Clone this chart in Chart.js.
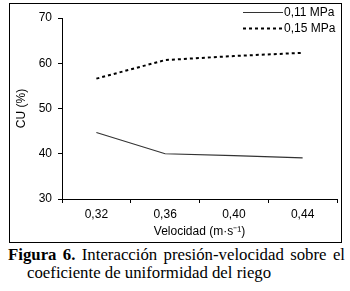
<!DOCTYPE html>
<html>
<head>
<meta charset="utf-8">
<script src="https://cdn.jsdelivr.net/npm/chart.js@4.4.0/dist/chart.umd.min.js"></script>
<style>
   body { margin: 0; background: #fff; }
   #box { position: absolute; left: 9px; top: 3px; width: 331px; height: 238px; border: 1px solid #000; }
   #box canvas { display: block; }
   #cap { position: absolute; left: 8px; top: 246px; width: 337px; font-family: "Liberation Serif", "Times New Roman", "DejaVu Serif", serif;
          font-size: 16.8px; line-height: 18px; color: #000; white-space: nowrap; }
   #cap .l1 { text-align: justify; text-align-last: justify; }
   #cap .l2 { padding-left: 19px; }
</style>
</head>
<body>
<div id="box"><canvas id="cu_chart" width="331" height="238"></canvas></div>
<div id="cap">
   <div class="l1"><b>Figura 6.</b> Interacción presión-velocidad sobre el</div>
   <div class="l2">coeficiente de uniformidad del riego</div>
</div>
<script>
   "use strict";
   var velocidad = ['0,32', '0,36', '0,40', '0,44'];
   var cu_011 = [44.7, 40.0, 39.6, 39.1];
   var cu_015 = [56.6, 60.7, 61.6, 62.3];
   var y_ticks = [30, 40, 50, 60, 70];

   var font = { family: '"Liberation Sans", Arial, sans-serif', size: 12 };

   // legend drawn in the top right corner, as in the figure
   var legendPlugin = {
      id: 'cornerLegend',
      afterDraw: function (chart) {
         var ctx = chart.ctx;
         ctx.save();
         chart.data.datasets.forEach(function (ds, i) {
            var y = 8.5 + i * 16;
            ctx.strokeStyle = ds.borderColor;
            ctx.lineWidth = ds.borderWidth;
            ctx.setLineDash(ds.borderDash || []);
            ctx.beginPath();
            ctx.moveTo(233, y);
            ctx.lineTo(273, y);
            ctx.stroke();
            ctx.setLineDash([]);
            ctx.fillStyle = '#000';
            ctx.font = font.size + 'px ' + font.family;
            ctx.textBaseline = 'middle';
            ctx.fillText(ds.label, 274, y);
         });
         ctx.restore();
      }
   };

   var ctx = document.getElementById('cu_chart').getContext('2d');
   const cu_chart = new Chart(ctx, {
      type: 'line',
      data: {
         labels: velocidad,
         datasets: [
            {
               label: '0,11 MPa',
               data: cu_011,
               borderColor: '#333',
               borderWidth: 1.2,
               pointRadius: 0,
               tension: 0,
               fill: false,
            },
            {
               label: '0,15 MPa',
               data: cu_015,
               borderColor: '#000',
               borderWidth: 2,
               borderDash: [3, 3],
               pointRadius: 0,
               tension: 0,
               fill: false,
            }
         ]
      },
      options: {
         responsive: false,
         animation: false,
         layout: { padding: { left: 2, right: 4, top: 14, bottom: 0 } },
         plugins: { legend: { display: false }, tooltip: { enabled: false } },
         scales: {
            x: {
               offset: true,
               grid: { offset: true, drawOnChartArea: false, drawTicks: true, tickLength: 4, color: '#000' },
               border: { color: '#000', width: 1 },
               ticks: { color: '#000', font: font, padding: 4, maxRotation: 0 },
               title: { display: true, text: 'Velocidad (m·s⁻¹)', color: '#000', font: font, padding: { top: 0, bottom: 3 } },
               afterFit: function (scale) { scale.height = 43; }
            },
            y: {
               min: 30,
               max: 70,
               afterBuildTicks: function (scale) { scale.ticks = y_ticks.map(function (v) { return { value: v }; }); },
               grid: { drawOnChartArea: false, drawTicks: true, tickLength: 4, color: '#000' },
               border: { color: '#000', width: 1 },
               ticks: { color: '#000', font: font, padding: 6 },
               title: { display: true, text: 'CU (%)', color: '#000', font: font, padding: { top: 2, bottom: 0 } },
               afterFit: function (scale) { scale.width = 50; }
            }
         }
      },
      plugins: [legendPlugin]
   });
</script>
</body>
</html>
